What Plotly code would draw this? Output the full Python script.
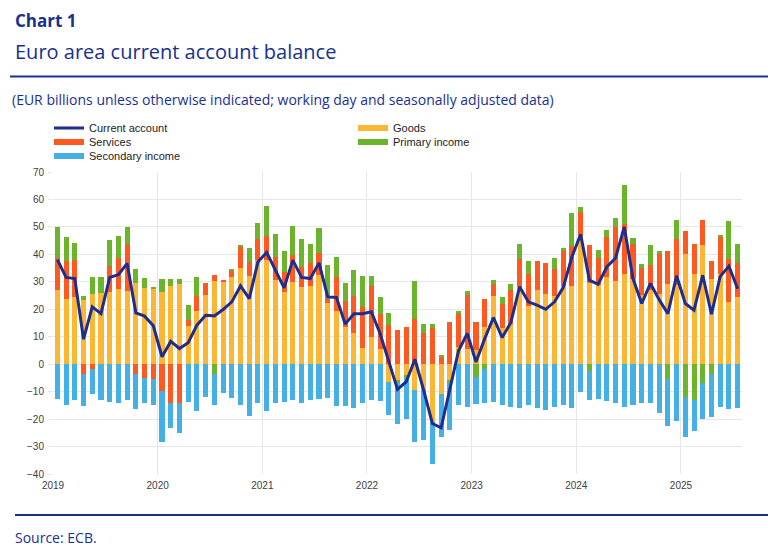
import plotly.graph_objects as go

# ---- data (EUR billions), monthly Jan 2019 - Jul 2025 ----
years = ["2019", "2020", "2021", "2022", "2023", "2024", "2025"]

goods = [26.9, 23.8, 24.5, 23.5, 25.5, 26.0, 26.2, 27.3, 26.5, 29.5, 27.8, 27.5,
         26.2, 28.6, 29.2, 14.0, 19.4, 25.2, 30.3, 30.1, 31.8, 35.0, 32.2, 38.1,
         37.9, 30.8, 26.2, 30.0, 28.2, 28.4, 32.4, 22.3, 19.4, 13.6, 11.2, 5.9,
         10.0, 5.5, -6.4, -5.8, -4.0, -9.5, -9.5, -21.0, -10.9, -5.8, 6.3, 5.7,
         5.1, 13.6, 24.8, 13.0, 14.8, 28.2, 21.1, 26.9, 25.7, 24.9, 28.4, 28.4,
         46.4, 29.4, 28.8, 31.6, 30.3, 33.0, 31.2, 25.1, 26.9, 25.5, 29.1, 28.8,
         40.0, 32.8, 43.3, 31.2, 32.8, 22.5, 24.5]
services = [11.9, 13.8, 13.6, -3.4, -1.7, 0.0, 9.6, 11.3, 17.2, -3.6, -4.9, -5.5,
            -9.7, -14.3, -14.3, 2.0, 5.4, 4.4, 2.1, 0.3, 2.4, 7.7, 5.1, 7.5,
            8.7, 8.4, 7.4, 9.9, 7.2, 8.5, 8.1, 1.6, 12.2, 9.5, 13.6, 15.0,
            18.6, 12.7, 14.4, 12.4, 13.6, 16.3, 11.4, 13.2, 2.7, 15.4, 11.8, 19.4,
            10.3, 10.1, 4.3, 9.1, 12.4, 10.0, 11.9, 10.6, 11.0, 9.7, 13.1, 14.6,
            9.1, 13.9, 9.9, 14.8, 19.7, 18.0, 12.7, 10.1, 9.1, 14.8, 12.0, 16.8,
            8.5, 11.1, 9.4, 6.4, 13.8, 15.7, 12.2]
primary_income = [11.2, 8.8, 6.0, 1.3, 6.3, 5.6, 9.3, 8.1, 6.1, 5.3, 3.6, 0.7,
                  4.9, 2.6, 1.9, 5.7, 6.8, 0.0, -3.6, 0.0, 0.6, 0.5, 5.2, 5.9,
                  11.0, 8.4, 7.8, 10.6, 10.1, 7.0, 9.0, 12.4, 7.6, 6.6, 9.4, 11.1,
                  3.6, 6.2, 4.4, -1.2, -1.2, 13.9, 3.2, 1.4, 0.3, -1.0, 1.2, 1.4,
                  -4.6, -1.9, 1.7, 2.3, 1.9, 5.5, 4.6, 0.0, 0.0, 3.9, 0.7, 12.2,
                  1.8, -2.4, 3.0, 2.4, 3.3, 14.2, 2.2, 1.3, 7.3, 0.8, -5.5, 7.1,
                  -12.1, -12.9, -7.0, -3.4, 0.5, 14.0, 7.0]
secondary_income = [-12.6, -14.9, -13.1, -11.8, -9.3, -13.0, -13.8, -14.1, -13.1, -12.7, -9.1, -9.2,
                    -18.7, -8.9, -10.9, -13.7, -17.0, -11.9, -11.4, -10.4, -12.3, -14.8, -18.8, -14.3,
                    -17.0, -14.1, -13.7, -12.9, -14.0, -13.1, -12.6, -12.3, -15.2, -15.2, -15.8, -14.0,
                    -13.1, -13.5, -12.2, -14.8, -14.9, -18.8, -18.2, -15.2, -15.6, -17.0, -14.9, -15.5,
                    -10.0, -12.1, -13.6, -14.7, -15.7, -15.8, -14.9, -16.1, -16.7, -15.5, -14.7, -16.1,
                    -10.0, -10.5, -12.5, -13.5, -14.3, -15.5, -14.7, -14.3, -14.1, -17.6, -17.1, -20.6,
                    -14.4, -11.4, -13.1, -15.8, -15.5, -16.5, -16.1]
current_account = [38.1, 31.6, 31.2, 9.1, 20.9, 18.4, 31.6, 32.6, 36.7, 18.7, 17.5, 14.0,
                   2.7, 8.3, 5.7, 7.8, 14.2, 17.8, 17.6, 19.9, 22.7, 28.5, 23.9, 37.3,
                   40.7, 34.2, 27.8, 37.9, 31.6, 31.2, 36.9, 24.5, 24.3, 14.6, 18.4, 18.4,
                   19.1, 11.2, 0.8, -9.2, -6.4, 1.8, -9.5, -21.6, -23.2, -9.5, 4.9, 11.2,
                   0.8, 9.3, 17.0, 9.7, 15.2, 28.2, 22.7, 21.5, 20.0, 22.7, 27.9, 39.1,
                   47.3, 30.6, 29.1, 35.4, 38.7, 50.0, 31.2, 22.1, 29.4, 23.5, 18.4, 32.2,
                   22.1, 19.7, 32.4, 18.2, 32.0, 35.7, 27.5]

n = len(goods)
x = [i + 0.5 for i in range(n)]  # month centre, months since Jan 2019
year_ticks = [12 * k for k in range(len(years))]

BLUE = "#17318f"
C_GOODS = "#fbb634"
C_SERV = "#fd5a22"
C_PRIM = "#6cb42b"
C_SEC = "#45b0e5"
C_LINE = "#1f2d8c"

fig = go.Figure()
bw = 0.58
for vals, col in [(goods, C_GOODS), (services, C_SERV),
                  (primary_income, C_PRIM), (secondary_income, C_SEC)]:
    fig.add_trace(go.Bar(x=x, y=vals, marker_color=col, width=bw,
                         marker_line_width=0, showlegend=False))
fig.add_trace(go.Scatter(x=x, y=current_account, mode="lines",
                         line=dict(color=C_LINE, width=3), showlegend=False))

# legend keys (rectangular keys like the original)
legend_items = [
    ("Current account", C_LINE, 3, "legend"),
    ("Goods", C_GOODS, 6, "legend"),
    ("Services", C_SERV, 6, "legend2"),
    ("Primary income", C_PRIM, 6, "legend2"),
    ("Secondary income", C_SEC, 6, "legend3"),
]
for name, col, lw, lg in legend_items:
    fig.add_trace(go.Scatter(x=[None], y=[None], mode="lines", name=name,
                             line=dict(color=col, width=lw), legend=lg))

# plot area geometry (px)
L, R, T, B = 53, 742, 172, 474
W, H = 778, 552
pw, ph = R - L, B - T


def px_x(p):
    return (p - L) / pw


def px_y(p):
    return (B - p) / ph


leg_font = dict(family="Liberation Sans, Arial, sans-serif", size=11, color="#222222")
common_leg = dict(orientation="h", xanchor="left", yanchor="middle", font=leg_font,
                  bgcolor="rgba(0,0,0,0)", entrywidth=259, entrywidthmode="pixels",
                  traceorder="normal", itemclick=False, itemdoubleclick=False,
                  itemwidth=30)

axis_font = dict(family="Liberation Sans, Arial, sans-serif", size=10, color="#404040")
fig.update_layout(
    width=W, height=H,
    margin=dict(l=L, r=W - R, t=T, b=H - B),
    paper_bgcolor="white", plot_bgcolor="white",
    barmode="relative", bargap=0,
    showlegend=True,
    legend=dict(x=px_x(49), y=px_y(128), **common_leg),
    legend2=dict(x=px_x(49), y=px_y(142), **common_leg),
    legend3=dict(x=px_x(49), y=px_y(156), **common_leg),
    xaxis=dict(range=[0, n], tickmode="array", tickvals=year_ticks, ticktext=years,
               showgrid=True, gridcolor="#e6e6e6", gridwidth=1, zeroline=False,
               ticks="", showline=False, ticklabelstandoff=4, tickfont=axis_font),
    yaxis=dict(range=[-40, 70], dtick=10, tick0=0, showgrid=True, gridcolor="#e6e6e6",
               gridwidth=1, zeroline=True, zerolinecolor="#e6e6e6", zerolinewidth=1,
               ticks="outside", ticklen=4, tickcolor="#e6e6e6", showline=False,
               ticklabelstandoff=2, tickfont=axis_font),
    font=dict(family="Open Sans, sans-serif", color=BLUE),
)

title_font = "Open Sans, sans-serif"
fig.add_annotation(text="<b>Chart 1</b>", xref="paper", yref="paper", x=px_x(13), y=px_y(20),
                   xanchor="left", yanchor="middle", showarrow=False,
                   font=dict(family=title_font, size=17, color=BLUE))
fig.add_annotation(text="Euro area current account balance", xref="paper", yref="paper",
                   x=px_x(13), y=px_y(52), xanchor="left", yanchor="middle", showarrow=False,
                   font=dict(family=title_font, size=20, color=BLUE))
fig.add_annotation(text="(EUR billions unless otherwise indicated; working day and seasonally adjusted data)",
                   xref="paper", yref="paper", x=px_x(10), y=px_y(99), xanchor="left",
                   yanchor="middle", showarrow=False,
                   font=dict(family=title_font, size=14, color=BLUE))
fig.add_annotation(text="Source: ECB.", xref="paper", yref="paper", x=px_x(13), y=px_y(537),
                   xanchor="left", yanchor="middle", showarrow=False,
                   font=dict(family=title_font, size=14, color=BLUE))

fig.add_shape(type="line", xref="paper", yref="paper", x0=px_x(10), x1=px_x(768),
              y0=px_y(76.5), y1=px_y(76.5), line=dict(color=BLUE, width=2))
fig.add_shape(type="line", xref="paper", yref="paper", x0=px_x(15), x1=px_x(768),
              y0=px_y(515), y1=px_y(515), line=dict(color=BLUE, width=2))

fig.write_html("out.html", config={"displayModeBar": False},
               post_script="document.body.style.margin='0px';")
